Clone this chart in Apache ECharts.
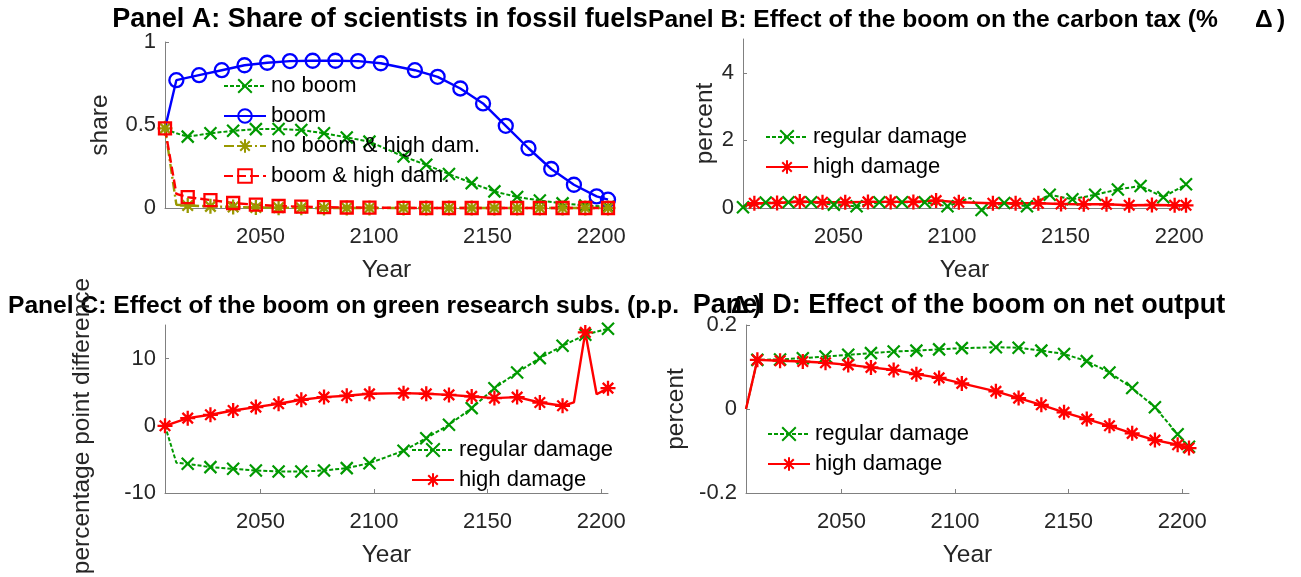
<!DOCTYPE html>
<html><head><meta charset="utf-8">
<script src="https://cdn.jsdelivr.net/npm/echarts@6/dist/echarts.min.js"></script>
<style>html,body{margin:0;padding:0;background:#fff}#c{width:1301px;height:577px}</style>
</head><body><div id="c"></div>
<script>
// ---------------- data ----------------
// Panel A: share of scientists in fossil fuels
const yearsA1 = [2008,2013,2023,2033,2043,2053,2063,2073,2083,2093,2103,2118,2128,2138,2148,2158,2168,2178,2188,2198,2203];
const shareBoom = [0.48,0.77,0.80,0.83,0.86,0.875,0.885,0.887,0.887,0.885,0.872,0.83,0.79,0.72,0.63,0.495,0.36,0.235,0.14,0.07,0.05];
const yearsA2 = [2008,2013,2018,2028,2038,2048,2058,2068,2078,2088,2098,2113,2123,2133,2143,2153,2163,2173,2183,2193,2203];
const shareNoBoom = [0.476,0.45,0.43,0.45,0.465,0.475,0.476,0.47,0.45,0.425,0.40,0.31,0.26,0.205,0.15,0.10,0.066,0.045,0.028,0.015,0.008];
const shareNoBoomHigh = [0.48,0.02,0.015,0.01,0.006,0.003,0.002,0.001,0,0,0,0,0,0,0,0,0,0,0,0,0];
const shareBoomHigh = [0.48,0.085,0.065,0.048,0.03,0.02,0.012,0.008,0.005,0.003,0.002,0.001,0,0,0,0,0,0,0,0,0];

// Panel B: effect on carbon tax (% change)
const yearsB1 = [2008,2018,2028,2038,2048,2058,2068,2078,2088,2098,2108,2113,2123,2133,2143,2153,2163,2173,2183,2193,2203];
const taxRegular = [0.02,0.16,0.17,0.17,0.10,0.05,0.17,0.17,0.17,0.05,0.30,-0.06,0.15,0.05,0.39,0.26,0.39,0.55,0.65,0.32,0.70];
const yearsB2 = [2008,2013,2023,2033,2043,2053,2063,2073,2083,2093,2103,2118,2128,2138,2148,2158,2168,2178,2188,2198,2203];
const taxHigh = [0.05,0.14,0.15,0.19,0.17,0.17,0.18,0.18,0.18,0.22,0.17,0.14,0.14,0.14,0.12,0.11,0.11,0.08,0.09,0.08,0.08];

// Panel C: effect on green research subsidy (p.p. change)
const yearsC1 = [2008,2013,2018,2028,2038,2048,2058,2068,2078,2088,2098,2113,2123,2133,2143,2153,2163,2173,2183,2193,2203];
const subsRegular = [0,-5.5,-5.66,-6.15,-6.4,-6.65,-6.8,-6.8,-6.65,-6.3,-5.56,-3.72,-1.84,0.15,2.63,5.6,7.94,10.07,11.9,13.55,14.44];
const yearsC2 = [2008,2018,2028,2038,2048,2058,2068,2078,2088,2098,2113,2123,2133,2143,2153,2163,2173,2183,2188,2193,2198,2203];
const subsHigh = [0,1.14,1.64,2.28,2.78,3.28,3.87,4.27,4.47,4.76,4.86,4.76,4.6,4.37,4.12,4.27,3.47,2.98,3.5,13.9,4.7,5.6];

// Panel D: effect on net output (%)
const yearsD = [2008,2013,2023,2033,2043,2053,2063,2073,2083,2093,2103,2118,2128,2138,2148,2158,2168,2178,2188,2198,2203];
const outRegular = [0,0.117,0.118,0.121,0.125,0.129,0.133,0.137,0.139,0.142,0.145,0.147,0.146,0.139,0.131,0.114,0.087,0.050,0.004,-0.06,-0.09];
const outHigh = [0,0.117,0.115,0.113,0.11,0.105,0.099,0.093,0.083,0.074,0.061,0.042,0.026,0.010,-0.008,-0.024,-0.04,-0.058,-0.074,-0.085,-0.093];

const xTicks = [2050,2100,2150,2200];
const yTicksA = [0,0.5,1], yTicksB = [0,2,4], yTicksC = [-10,0,10], yTicksD = [-0.2,0,0.2];

// years at which no marker is drawn
const noMark = {
  boomA:[2008], noBoomA:[2008,2013], noBoomHighA:[2013], boomHighA:[2013],
  regB:[2108], highB:[2008], regC:[2008,2013], highC:[2188,2198], regD:[2008], highD:[2008]
};

// ---------------- styles ----------------
const FONT = '"Liberation Sans", Arial, sans-serif';
const GREEN = '#009900', BLUE = '#0000ff', RED = '#ff0000', OLIVE = '#999900';
const SYM_X = 'path://M0,0L10,10M10,0L0,10';
const SYM_STAR = 'path://M5,0L5,10M0,5L10,5M1.5,1.5L8.5,8.5M8.5,1.5L1.5,8.5';

function pts(years, vals, nm) {
  return years.map((y, i) => nm.indexOf(y) >= 0 ? {value:[y, vals[i]], symbol:'none'} : [y, vals[i]]);
}
function mk(name, gi, data, color, symbol, size, dash, width, bw) {
  return {
    type:'line', name, xAxisIndex:gi, yAxisIndex:gi, data,
    symbol, symbolSize:size, showSymbol:true, showAllSymbol:true, clip:false,
    lineStyle:{color, width, type:dash},
    itemStyle:{color:'rgba(0,0,0,0)', borderColor:color, borderWidth:bw},
    emphasis:{disabled:true}, animation:false
  };
}

const grids = [
  {left:165, top:42, width:443, height:166},
  {left:743, top:39, width:443, height:169},
  {left:165, top:325, width:443, height:168},
  {left:746, top:325, width:443, height:168}
];
const axisCol = '#808080', txtCol = '#262626';
function xAxis(gi) {
  return {
    gridIndex:gi, type:'value', min:2008, max:2203,
    axisLine:{show:true, onZero:false, lineStyle:{color:axisCol, width:1}},
    axisTick:{show:true, inside:true, length:4, customValues:xTicks, lineStyle:{color:axisCol}},
    axisLabel:{customValues:xTicks, fontSize:22, fontFamily:FONT, color:txtCol, margin:18, formatter:v => String(v)},
    splitLine:{show:false},
    name:'Year', nameLocation:'middle', nameGap:50,
    nameTextStyle:{fontSize:24.5, fontFamily:FONT, color:txtCol}
  };
}
function yAxis(gi, min, max, ticks, name, gap, pad) {
  return {
    gridIndex:gi, type:'value', min, max,
    axisLine:{show:true, onZero:false, lineStyle:{color:axisCol, width:1}},
    axisTick:{show:true, inside:true, length:4, customValues:ticks, lineStyle:{color:axisCol}},
    axisLabel:{customValues:ticks, fontSize:22, fontFamily:FONT, color:txtCol, margin:9, formatter:v => String(v)},
    splitLine:{show:false},
    name, nameLocation:'middle', nameGap:gap,
    nameTextStyle:{fontSize:24.5, fontFamily:FONT, color:txtCol, padding:pad || 0}
  };
}
function legend(names, left, top) {
  return {
    data:names, orient:'vertical', left, top, padding:0, itemGap:8,
    itemWidth:42, itemHeight:17, selectedMode:false,
    textStyle:{fontSize:22, fontFamily:FONT, color:'#000'}
  };
}
function ttl(text, x, y, size, align) {
  return {type:'text', x, y, silent:true,
    style:{text, font:'bold ' + size + 'px ' + FONT, fill:'#000', align:align || 'left', verticalAlign:'middle'}};
}

const series = [
  mk('no boom', 0, pts(yearsA2, shareNoBoom, noMark.noBoomA), GREEN, SYM_X, 12, [4,2], 2, 2.2),
  mk('boom', 0, pts(yearsA1, shareBoom, noMark.boomA), BLUE, 'circle', 14, 'solid', 2.4, 2.3),
  mk('no boom & high dam.', 0, pts(yearsA2, shareNoBoomHigh, noMark.noBoomHighA), OLIVE, SYM_STAR, 15, [10,3,2,3], 2.4, 2.3),
  mk('boom & high dam.', 0, pts(yearsA2, shareBoomHigh, noMark.boomHighA), RED, 'rect', 12, [9,4], 2.4, 2.3),
  mk('regular damage', 1, pts(yearsB1, taxRegular, noMark.regB), GREEN, SYM_X, 12, [4,2], 2, 2.2),
  mk('high damage', 1, pts(yearsB2, taxHigh, noMark.highB), RED, SYM_STAR, 15, 'solid', 2.4, 2.3),
  mk('regular damage', 2, pts(yearsC1, subsRegular, noMark.regC), GREEN, SYM_X, 12, [4,2], 2, 2.2),
  mk('high damage', 2, pts(yearsC2, subsHigh, noMark.highC), RED, SYM_STAR, 15, 'solid', 2.4, 2.3),
  mk('regular damage', 3, pts(yearsD, outRegular, noMark.regD), GREEN, SYM_X, 12, [4,2], 2, 2.2),
  mk('high damage', 3, pts(yearsD, outHigh, noMark.highD), RED, SYM_STAR, 15, 'solid', 2.4, 2.3)
];

const chart = echarts.init(document.getElementById('c'), null, {renderer:'canvas'});
chart.setOption({
  animation:false,
  backgroundColor:'#fff',
  grid:grids,
  xAxis:[xAxis(0), xAxis(1), xAxis(2), xAxis(3)],
  yAxis:[
    yAxis(0, 0, 1, yTicksA, 'share', 52),
    yAxis(1, 0, 5, yTicksB, 'percent', 23),
    yAxis(2, -10, 15, yTicksC, 'percentage point difference', 70, [0, 34, 0, 0]),
    yAxis(3, -0.2, 0.2, yTicksD, 'percent', 57)
  ],
  legend:[
    legend(['no boom','boom','no boom & high dam.','boom & high dam.'], 223, 75),
    legend(['regular damage','high damage'], 765, 126),
    legend(['regular damage','high damage'], 411, 439),
    legend(['regular damage','high damage'], 767, 423)
  ],
  graphic:[
    ttl('Panel A: Share of scientists in fossil fuels', 380, 20, 27, 'center'),
    ttl('Panel B: Effect of the boom on the carbon tax (%', 648, 20, 24.6),
    ttl('Δ', 1255, 20, 24.6),
    ttl(')', 1277, 20, 24.6),
    ttl('Panel C: Effect of the boom on green research subs. (p.p.', 8, 306, 24.6),
    ttl('Panel D: Effect of the boom on net output', 959, 306, 27, 'center'),
    ttl('Δ', 731, 306, 24.6),
    ttl(')', 753, 306, 24.6)
  ],
  series
});
</script>
</body></html>
